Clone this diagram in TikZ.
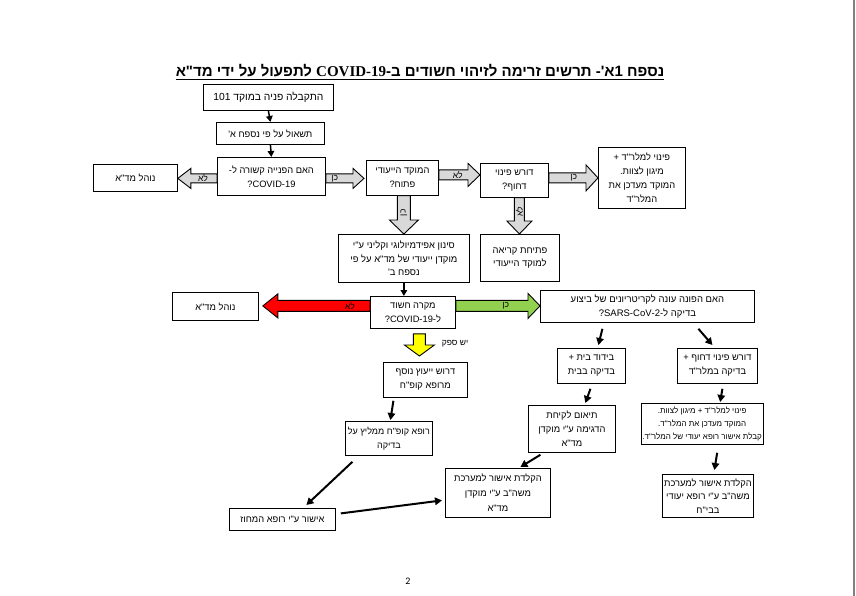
\documentclass[tikz,border=0pt]{standalone}
\usepackage{fontspec}
\setmainfont{Liberation Sans}
\newfontfamily\heb[Script=Hebrew]{Liberation Sans}
\newfontfamily\latser{Liberation Serif}
\newfontfamily\pagefont{Carlito}
\TeXXeTstate=1
\usetikzlibrary{arrows.meta,calc}
\newcommand\R[1]{\beginR #1\endR}
\newcommand\Lt[1]{\beginL #1\endL}
\definecolor{fatgray}{HTML}{D9D9D9}
\definecolor{fatred}{HTML}{FF0000}
\definecolor{fatgreen}{HTML}{92D050}
\definecolor{fatyellow}{HTML}{FFFF00}
\tikzset{
  box/.style={draw, line width=0.8pt, align=center, inner sep=1pt, anchor=north west, font=\heb\fontsize{9.3}{14}\selectfont},
  fat/.style={draw, line width=0.9pt, line join=miter},
  lab/.style={inner sep=0pt, font=\heb\fontsize{8.5}{10}\selectfont},
  arr/.style={line width=1.5pt, -{Triangle[length=6pt,width=6.5pt]}},
  darr/.style={line width=2pt, -{Triangle[length=7pt,width=7.5pt]}},
}
\newcommand\fatH[9]{%
  \draw[fat,fill=#4] let \p1=(#2), \p2=(#3) in
   ({\x1},{\y1+#5}) -- ({\x2-(#7)},{\y1+#5}) -- ({\x2-(#7)},{\y1+#6}) -- ({\x2},{\y1})
   -- ({\x2-(#7)},{\y1-#6}) -- ({\x2-(#7)},{\y1-#5}) -- ({\x1},{\y1-#5}) -- cycle
   ({\x1+#8},{\y1}) node[lab] (#1) {\R{#9}};}
\newcommand\fatV[9]{%
  \draw[fat,fill=#4] let \p1=(#2), \p2=(#3) in
   ({\x1-#5},{\y1}) -- ({\x1-#5},{\y2+#7}) -- ({\x1-#6},{\y2+#7}) -- ({\x1},{\y2})
   -- ({\x1+#6},{\y2+#7}) -- ({\x1+#5},{\y2+#7}) -- ({\x1+#5},{\y1}) -- cycle
   ({\x1},{\y1-#8}) node[lab,rotate=90] (#1) {\R{#9}};}
\begin{document}
\begin{tikzpicture}[x=1pt,y=-1pt]
\useasboundingbox (0,0) rectangle (856,596);
\draw[gray, line width=1.2pt] (854,0) -- (854,596);

% title
\node[inner sep=0pt, font=\heb\bfseries\fontsize{15}{17}\selectfont] (title) at (420,71)
  {\R{נספח 1א'- תרשים זרימה לזיהוי חשודים ב-\Lt{{\latser\bfseries COVID-19}} לתפעול על ידי מד"א}};
\draw[line width=0.9pt] ([yshift=-2.5pt]title.base west) -- ([yshift=-2.5pt]title.base east);

% boxes
\node[box, minimum width=130pt, minimum height=26pt, font=\heb\fontsize{10.3}{14}\selectfont] (b1) at (203,84) {\R{התקבלה פניה במוקד 101}};
\node[box, minimum width=108pt, minimum height=22pt] (b2) at (216,122) {\R{תשאול על פי נספח א'}};
\node[box, minimum width=108pt, minimum height=38pt] (b3) at (217,157) {\R{האם הפנייה קשורה ל-}\\\R{\Lt{COVID-19}?}};
\node[box, minimum width=84pt, minimum height=27pt] (n1) at (93,164) {\R{נוהל מד"א}};
\node[box, minimum width=72pt, minimum height=35pt] (b4) at (366,160) {\R{המוקד הייעודי}\\\R{פתוח?}};
\node[box, minimum width=68pt, minimum height=34pt] (b5) at (480,163) {\R{דורש פינוי}\\\R{דחוף?}};
\node[box, minimum width=87pt, minimum height=61pt] (b6) at (598,147) {\R{פינוי למלר"ד +}\\\R{מיגון לצוות.}\\\R{המוקד מעדכן את}\\\R{המלר"ד}};
\node[box, minimum width=131pt, minimum height=48pt, font=\heb\fontsize{9.4}{13.3}\selectfont] (b7) at (338,234) {\R{סינון אפידמיולוגי וקליני ע"י}\\\R{מוקדן ייעודי של מד"א על פי}\\\R{נספח ב'}};
\node[box, minimum width=79pt, minimum height=47pt, font=\heb\fontsize{9.4}{13.3}\selectfont] (b8) at (480,234) {\R{פתיחת קריאה}\\\R{למוקד הייעודי}};
\node[box, minimum width=85pt, minimum height=32pt] (b9) at (370,296) {\R{מקרה חשוד}\\\R{ל-\Lt{COVID-19}?}};
\node[box, minimum width=86pt, minimum height=28pt] (n2) at (172,292) {\R{נוהל מד"א}};
\node[box, minimum width=214pt, minimum height=32pt, font=\heb\fontsize{9.5}{14}\selectfont] (b10) at (540,290) {\R{האם הפונה עונה לקריטריונים של ביצוע}\\\R{בדיקה ל-\Lt{SARS-CoV-2}?}};
\node[box, minimum width=84pt, minimum height=35pt] (b11) at (383,362) {\R{דרוש ייעוץ נוסף}\\\R{מרופא קופ"ח}};
\node[box, minimum width=87pt, minimum height=34pt, font=\heb\fontsize{9}{14}\selectfont] (b12) at (345,421) {\R{רופא קופ"ח ממליץ על}\\\R{בדיקה}};
\node[box, minimum width=106pt, minimum height=22pt] (b13) at (229,508) {\R{אישור ע"י רופא המחוז}};
\node[box, minimum width=105pt, minimum height=49pt, font=\heb\fontsize{9.3}{15}\selectfont] (b14) at (445,468) {\R{הקלדת אישור למערכת}\\\R{משה"ב ע"י מוקדן}\\\R{מד"א}};
\node[box, minimum width=87pt, minimum height=47pt] (b15) at (528,405) {\R{תיאום לקיחת}\\\R{הדגימה ע"י מוקדן}\\\R{מד"א}};
\node[box, minimum width=68pt, minimum height=35pt] (b16) at (557,348) {\R{בידוד בית +}\\\R{בדיקה בבית}};
\node[box, minimum width=80pt, minimum height=35pt] (b17) at (677,348) {\R{דורש פינוי דחוף +}\\\R{בדיקה במלר"ד}};
\node[box, minimum width=121pt, minimum height=41pt, font=\heb\fontsize{8}{13}\selectfont] (b18) at (641,403) {\R{פינוי למלר"ד + מיגון לצוות.}\\\R{המוקד מעדכן את המלר"ד.}\\\R{קבלת אישור רופא יעודי של המלר"ד.}};
\node[box, minimum width=91pt, minimum height=43pt, font=\heb\fontsize{9.3}{13.5}\selectfont] (b19) at (662,474) {\R{הקלדת אישור למערכת}\\\R{משה"ב ע"י רופא יעודי}\\\R{בבי"ח}};

% fat arrows
\fatH{la1}{[yshift=-2pt]b3.west}{n1.east}{fatgray}{4.5pt}{10pt}{-13pt}{-14pt}{לא}
\fatH{ken1}{[yshift=-2pt]b3.east}{[xshift=-2pt]b4.west}{fatgray}{4.5pt}{10pt}{11pt}{9pt}{כן}
\fatH{la2}{[yshift=3pt]b4.east}{b5.west}{fatgray}{5pt}{11.5pt}{12pt}{19pt}{לא}
\fatH{ken2}{[yshift=2.5pt]b5.east}{b6.west}{fatgray}{5pt}{13pt}{12pt}{25pt}{כן}
\fatH{la3}{[yshift=6.5pt]b9.west}{[xshift=4pt]n2.east}{fatred}{5.5pt}{12pt}{-15pt}{-20pt}{לא}
\fatH{ken3}{[yshift=6.5pt]b9.east}{b10.west}{fatgreen}{5.5pt}{12.5pt}{12pt}{50pt}{כן}
\fatV{ken4}{[xshift=1.5pt]b4.south}{b7.north}{fatgray}{6.5pt}{14.5pt}{14pt}{17pt}{כן}
\fatV{la4}{[xshift=5pt]b5.south}{b8.north}{fatgray}{5pt}{12.5pt}{13pt}{14pt}{לא}
\fatV{yv}{[xshift=6.5pt,yshift=-5pt]b9.south}{[yshift=6pt]b11.north}{fatyellow}{6pt}{15pt}{11pt}{10pt}{}
\node[lab] (safek) at (455,344) {\R{יש ספק}};

% thin arrows
\draw[arr] (b1.south) -- (b2.north);
\draw[arr] (b2.south) -- (b3.north);
\draw[arr] (b7.south) -- (b7.south |- b9.north);

% diagonal arrows
\draw[darr] ([xshift=-45pt,yshift=-6pt]b10.south) -- ([xshift=7pt,yshift=3pt]b16.north);
\draw[darr] ([xshift=51pt,yshift=-6pt]b10.south) -- ([xshift=-5pt,yshift=3pt]b17.north);
\draw[darr] ([xshift=-1pt,yshift=-5pt]b16.south) -- ([xshift=13.5pt,yshift=2pt]b15.north);
\draw[darr] ([xshift=-31.5pt,yshift=-2pt]b15.south) -- ([xshift=22.5pt,yshift=1pt]b14.north);
\draw[darr] ([xshift=5pt,yshift=-5pt]b17.south) -- ([xshift=18pt,yshift=1pt]b18.north);
\draw[darr] ([xshift=15pt,yshift=-8pt]b18.south) -- ([xshift=6.5pt,yshift=4pt]b19.north);
\draw[darr] ([xshift=-32pt,yshift=-3pt]b11.south) -- ([xshift=1.5pt,yshift=1pt]b12.north);
\draw[darr] ([xshift=-36.5pt,yshift=-6pt]b12.south) -- ([xshift=24pt,yshift=3pt]b13.north);
\draw[darr] ([xshift=5pt,yshift=6pt]b13.east) -- ([xshift=-3pt,yshift=-7.5pt]b14.west);

\node[inner sep=0pt, font=\pagefont\fontsize{10}{12}\selectfont] (pg) at (408,581) {2};
\end{tikzpicture}
\end{document}
